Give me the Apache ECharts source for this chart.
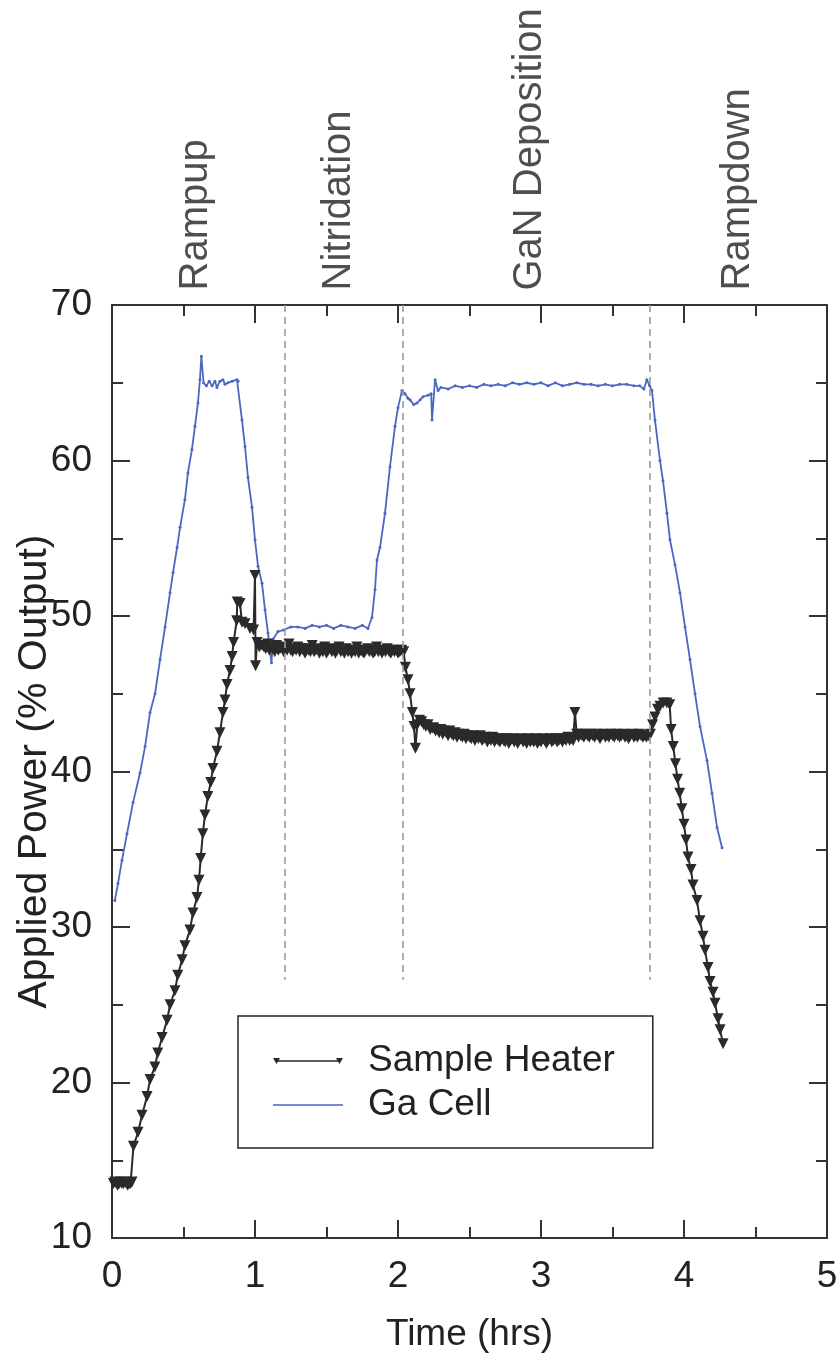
<!DOCTYPE html>
<html>
<head>
<meta charset="utf-8">
<script src="https://cdn.jsdelivr.net/npm/echarts@6/dist/echarts.min.js"></script>
<style>
html,body{margin:0;padding:0;background:#fff;}
#chart{width:836px;height:1364px;}
</style>
</head>
<body>
<div id="chart"></div>
<script>
// ---------------- DATA ----------------
const xTicks = [0, 1, 2, 3, 4, 5];
const yTicks = [10, 20, 30, 40, 50, 60, 70];

const phaseNames = ['Rampup', 'Nitridation', 'GaN Deposition', 'Rampdown'];
const phaseLabelX = [0.59, 1.59, 2.92, 4.38];
const phaseBoundaries = [1.21, 2.03, 3.76];
const boundaryTop = 70;
const boundaryBottom = 26.6;

const heaterTime = [
  0.01,0.02,0.03,0.04,0.05,0.06,0.07,0.08,0.09,0.10,0.11,0.12,0.13,0.14,
  0.15,0.182,0.21,0.245,0.266,0.30,0.32,0.35,0.385,0.406,
  0.44,0.46,0.49,0.51,0.545,0.566,0.594,0.608,0.62,0.635,
  0.65,0.67,0.69,0.706,0.734,0.755,0.776,0.79,0.804,0.825,
  0.84,0.85,0.872,0.876,0.895,0.909,0.93,0.965,0.99,1.0,
  1.004,1.014,1.03,1.05,
  1.0625,1.075,1.0875,1.1,1.1125,1.125,1.1375,1.15,1.1625,1.175,
  1.1875,1.2,1.2125,1.225,1.2375,1.25,1.2625,1.275,1.2875,1.3,
  1.3125,1.325,1.3375,1.35,1.3625,1.375,1.3875,1.4,1.4125,1.425,
  1.4375,1.45,1.4625,1.475,1.4875,1.5,1.5125,1.525,1.5375,1.55,
  1.5625,1.575,1.5875,1.6,1.6125,1.625,1.6375,1.65,1.6625,1.675,
  1.6875,1.7,1.7125,1.725,1.7375,1.75,1.7625,1.775,1.7875,1.8,
  1.8125,1.825,1.8375,1.85,1.8625,1.875,1.8875,1.9,1.9125,1.925,
  1.9375,1.95,1.9625,1.975,1.9875,2.0,2.0125,2.025,2.04,
  2.052,2.07,2.084,2.1,2.112,2.122,2.135,2.15,2.165,2.18,2.195,2.21,2.225,2.24,
  2.25,2.2625,2.275,2.2875,2.3,2.3125,2.325,2.3375,2.35,2.3625,
  2.375,2.3875,2.4,2.4125,2.425,2.4375,2.45,2.4625,2.475,2.4875,
  2.5,2.5125,2.525,2.5375,2.55,2.5625,2.575,2.5875,2.6,2.6125,
  2.625,2.6375,2.65,2.6625,2.675,2.6875,2.7,2.7125,2.725,2.7375,
  2.75,2.7625,2.775,2.7875,2.8,2.8125,2.825,2.8375,2.85,2.8625,
  2.875,2.8875,2.9,2.9125,2.925,2.9375,2.95,2.9625,2.975,2.9875,
  3.0,3.0125,3.025,3.0375,3.05,3.0625,3.075,3.0875,3.1,3.1125,
  3.125,3.1375,3.15,3.1625,3.175,3.1875,3.2,3.2125,3.225,3.2375,
  3.25,3.2625,3.275,3.2875,3.3,3.3125,3.325,3.3375,3.35,3.3625,
  3.375,3.3875,3.4,3.4125,3.425,3.4375,3.45,3.4625,3.475,3.4875,
  3.5,3.5125,3.525,3.5375,3.55,3.5625,3.575,3.5875,3.6,3.6125,
  3.625,3.6375,3.65,3.6625,3.675,3.6875,3.7,3.7125,3.725,3.7375,
  3.75,
  3.765,3.78,3.797,3.815,3.832,3.855,3.88,3.9,3.91,3.925,
  3.94,3.955,3.97,3.985,4.0,4.014,4.028,4.049,4.063,4.091,
  4.112,4.133,4.147,4.168,4.182,4.203,4.217,4.238,4.252,4.273
];
const heaterPower = [
  13.5,13.6,13.5,13.4,13.5,13.6,13.5,13.5,13.6,13.5,13.4,13.5,13.5,13.6,
  15.9,16.8,17.9,19.1,20.2,21.0,21.9,22.9,24.0,25.0,
  25.9,26.9,27.9,28.8,29.8,30.9,31.9,33.0,34.4,36.0,
  37.2,38.4,39.3,40.2,41.3,42.5,43.8,44.6,45.6,46.5,
  47.4,48.3,49.7,50.9,50.8,49.6,49.5,49.2,49.1,52.6,
  46.8,48.3,48.0,48.1,
  48.0,47.9,48.2,47.8,48.0,47.9,47.7,48.1,47.8,47.9,
  48.0,47.7,47.9,47.8,48.2,47.8,47.7,47.9,47.8,48.0,
  47.7,47.9,47.8,47.6,47.9,47.8,47.7,48.1,47.7,47.8,
  47.9,47.6,47.8,47.7,48.0,47.6,47.8,47.9,47.7,47.8,
  47.6,47.8,48.0,47.7,47.8,47.6,47.9,47.7,47.8,47.6,
  47.8,47.7,48.0,47.6,47.8,47.7,47.6,47.8,47.9,47.7,
  47.8,47.6,47.7,48.0,47.7,47.8,47.6,47.8,47.7,47.9,
  47.7,47.6,47.8,47.7,47.8,47.6,47.7,47.8,47.7,
  46.7,45.9,45.0,43.8,42.9,41.5,43.0,43.3,43.2,43.0,42.9,43.0,42.7,42.8,
  42.8,42.6,42.7,42.5,42.7,42.4,42.6,42.5,42.3,42.6,
  42.4,42.3,42.5,42.2,42.4,42.3,42.2,42.4,42.1,42.3,
  42.2,42.1,42.3,42.0,42.2,42.1,42.3,42.0,42.1,42.2,
  41.9,42.1,42.0,42.2,41.9,42.1,42.0,41.9,42.1,42.0,
  41.9,42.1,41.8,42.0,42.1,41.9,42.0,41.8,42.0,42.1,
  41.9,42.0,41.8,42.1,41.9,42.0,41.9,42.1,41.8,42.0,
  41.9,42.1,42.0,41.8,42.0,42.1,41.9,42.0,42.1,41.9,
  42.0,42.1,41.9,42.1,42.0,42.2,42.0,42.1,42.0,43.8,
  42.4,42.2,42.4,42.3,42.2,42.4,42.3,42.2,42.4,42.3,
  42.2,42.4,42.3,42.1,42.3,42.4,42.2,42.3,42.2,42.4,
  42.3,42.2,42.4,42.3,42.2,42.3,42.4,42.2,42.3,42.1,
  42.3,42.4,42.2,42.3,42.2,42.4,42.3,42.2,42.3,42.2,
  42.3,
  42.4,43.0,43.5,44.0,44.2,44.4,44.4,44.3,42.7,41.6,
  40.5,39.5,38.6,37.6,36.6,35.6,34.5,33.7,32.7,31.7,
  30.4,29.4,28.5,27.4,26.5,25.8,25.1,24.1,23.4,22.5
];

const gaTime = [
  0.02,0.042,0.07,0.105,0.147,0.196,0.231,0.266,0.301,0.336,
  0.371,0.406,0.427,0.455,0.476,0.51,0.531,0.559,0.58,0.601,
  0.615,0.625,0.64,0.66,0.68,0.70,0.72,0.734,0.755,0.776,
  0.79,0.811,0.84,0.874,0.882,0.909,0.93,0.951,0.979,1.0,
  1.021,1.049,1.07,1.091,1.115,1.126,1.161,1.2,1.25,1.3,
  1.35,1.4,1.45,1.5,1.55,1.6,1.65,1.7,1.75,1.79,
  1.818,1.839,1.853,1.874,1.909,1.944,1.979,2.0,2.028,2.049,
  2.07,2.084,2.11,2.133,2.155,2.175,2.21,2.232,2.238,2.259,
  2.28,2.3,2.35,2.4,2.45,2.5,2.55,2.6,2.65,2.7,
  2.75,2.8,2.85,2.9,2.95,3.0,3.05,3.1,3.15,3.2,
  3.25,3.3,3.35,3.4,3.45,3.5,3.55,3.6,3.65,3.69,
  3.72,3.74,3.76,3.776,3.797,3.832,3.853,3.881,3.902,3.937,
  3.972,4.007,4.042,4.077,4.112,4.161,4.196,4.231,4.266
];
const gaPower = [
  31.7,32.8,34.3,36.0,38.0,39.9,41.6,43.8,45.0,47.2,
  49.3,51.5,52.8,54.4,55.7,57.5,59.2,60.7,62.2,63.7,
  65.2,66.7,65.0,64.8,65.1,64.8,65.1,64.7,65.1,65.2,
  64.9,65.0,65.1,65.2,65.1,62.6,60.9,58.9,57.0,54.9,
  53.2,52.1,50.4,48.9,47.0,48.5,49.0,49.1,49.3,49.3,
  49.2,49.4,49.3,49.4,49.2,49.4,49.3,49.2,49.4,49.2,
  49.9,51.7,53.6,54.4,56.6,59.6,62.2,63.4,64.5,64.3,
  64.0,63.9,63.6,63.7,63.9,64.1,64.2,64.3,62.6,65.2,
  64.5,64.7,64.6,64.8,64.7,64.8,64.7,64.9,64.8,64.9,
  64.8,65.0,64.9,65.0,64.9,65.0,64.8,65.0,64.8,64.9,
  65.0,64.9,64.9,64.8,64.9,64.8,64.9,64.9,64.8,64.8,
  64.6,65.2,64.8,64.5,62.6,60.0,58.7,56.6,54.9,53.3,
  51.5,49.3,47.2,45.0,42.9,40.7,38.6,36.4,35.1
];

// ---------------- CHART ----------------
const FONT = '"Liberation Sans", Arial, Helvetica, sans-serif';
const INK = '#222222';
const AXIS = '#333333';
const HEATER = '#2a2a2a';
const GA = '#4a67c2';

const heaterData = heaterTime.map((t, i) => [t, heaterPower[i]]);
const gaData = gaTime.map((t, i) => [t, gaPower[i]]);

const HEATER_ICON = 'path://M0,2 L7,2 L3.5,8 Z M63,2 L70,2 L66.5,8 Z M3,4.3 L67,4.3 L67,5.7 L3,5.7 Z M90,0 L90,10 L90,10 Z M0,0 L0,10 L0,10 Z';
const GA_ICON = 'path://M0,4.3 L70,4.3 L70,5.7 L0,5.7 Z M90,0 L90,10 L90,10 Z M0,0 L0,10 L0,10 Z';

function xAxisCfg(pos, showLabels) {
  return {
    type: 'value', position: pos, gridIndex: 0,
    min: xTicks[0], max: xTicks[xTicks.length - 1], interval: xTicks[1] - xTicks[0],
    axisLine: { show: true, onZero: false, lineStyle: { color: AXIS, width: 2 } },
    axisTick: { show: true, inside: true, length: 18, lineStyle: { color: AXIS, width: 2 } },
    minorTick: { show: true, splitNumber: 2, length: 11, lineStyle: { color: AXIS, width: 2 } },
    axisLabel: { show: showLabels, fontSize: 37, color: INK, margin: 20, fontFamily: FONT },
    splitLine: { show: false }, minorSplitLine: { show: false }
  };
}
function yAxisCfg(pos, showLabels) {
  return {
    type: 'value', position: pos, gridIndex: 0,
    min: yTicks[0], max: yTicks[yTicks.length - 1], interval: yTicks[1] - yTicks[0],
    axisLine: { show: true, onZero: false, lineStyle: { color: AXIS, width: 2 } },
    axisTick: { show: true, inside: true, length: 18, lineStyle: { color: AXIS, width: 2 } },
    minorTick: { show: true, splitNumber: 2, length: 11, lineStyle: { color: AXIS, width: 2 } },
    axisLabel: { show: showLabels, fontSize: 37, color: INK, margin: 20, fontFamily: FONT },
    splitLine: { show: false }, minorSplitLine: { show: false }
  };
}

const xBottom = Object.assign(xAxisCfg('bottom', true), {
  name: 'Time (hrs)', nameLocation: 'middle', nameGap: 78, nameMoveOverlap: false,
  nameTextStyle: { fontSize: 37, color: INK, fontFamily: FONT }
});
const yLeft = Object.assign(yAxisCfg('left', true), {
  name: 'Applied Power (% Output)', nameLocation: 'middle', nameGap: 57, nameMoveOverlap: false,
  nameTextStyle: { fontSize: 41, color: INK, fontFamily: FONT }
});

const chart = echarts.init(document.getElementById('chart'), null, { renderer: 'canvas' });
chart.setOption({
  animation: false,
  backgroundColor: '#ffffff',
  textStyle: { fontFamily: FONT },
  grid: { left: 112, right: 9, top: 305, bottom: 126, containLabel: false, outerBoundsMode: 'none' },
  xAxis: [xBottom, xAxisCfg('top', false)],
  yAxis: [yLeft, yAxisCfg('right', false)],
  legend: {
    orient: 'vertical', left: 238, top: 1016,
    padding: [25, 38, 23, 35], itemGap: 4,
    itemWidth: 90, itemHeight: 10, symbolKeepAspect: true,
    borderColor: INK, borderWidth: 1.5, borderRadius: 0, backgroundColor: '#ffffff',
    selectedMode: false,
    itemStyle: { borderWidth: 0 },
    textStyle: { fontSize: 37, lineHeight: 40, color: INK, fontFamily: FONT },
    data: [
      { name: 'Sample Heater', icon: HEATER_ICON },
      { name: 'Ga Cell', icon: GA_ICON }
    ]
  },
  series: [
    {
      type: 'line', name: 'Ga Cell', xAxisIndex: 0, yAxisIndex: 0,
      data: gaData, color: GA,
      symbol: 'circle', symbolSize: 3, showSymbol: true, showAllSymbol: true,
      lineStyle: { width: 1.8, color: GA }, itemStyle: { color: GA },
      z: 2, silent: true,
      markLine: {
        silent: true, symbol: ['none', 'none'], label: { show: false },
        lineStyle: { color: '#9b9b9b', type: [7, 5], width: 1.6 },
        data: phaseBoundaries.map(b => [{ coord: [b, boundaryTop] }, { coord: [b, boundaryBottom] }])
      }
    },
    {
      type: 'line', name: 'Sample Heater', xAxisIndex: 0, yAxisIndex: 0,
      data: heaterData, color: HEATER,
      symbol: 'triangle', symbolRotate: 180, symbolSize: [11, 11],
      showSymbol: true, showAllSymbol: true,
      lineStyle: { width: 2, color: HEATER }, itemStyle: { color: HEATER },
      z: 3, silent: true
    },
    {
      type: 'scatter', name: 'phases', xAxisIndex: 0, yAxisIndex: 0,
      data: phaseLabelX.map((x, i) => ({ value: [x, boundaryTop], name: phaseNames[i] })),
      symbolSize: 1, itemStyle: { color: 'rgba(0,0,0,0)' }, clip: false, silent: true, z: 5,
      label: {
        show: true, formatter: p => p.name, position: 'top', distance: 14,
        rotate: 90, align: 'left', verticalAlign: 'middle',
        fontSize: 40, color: INK, fontFamily: FONT
      }
    }
  ]
});
</script>
</body>
</html>
